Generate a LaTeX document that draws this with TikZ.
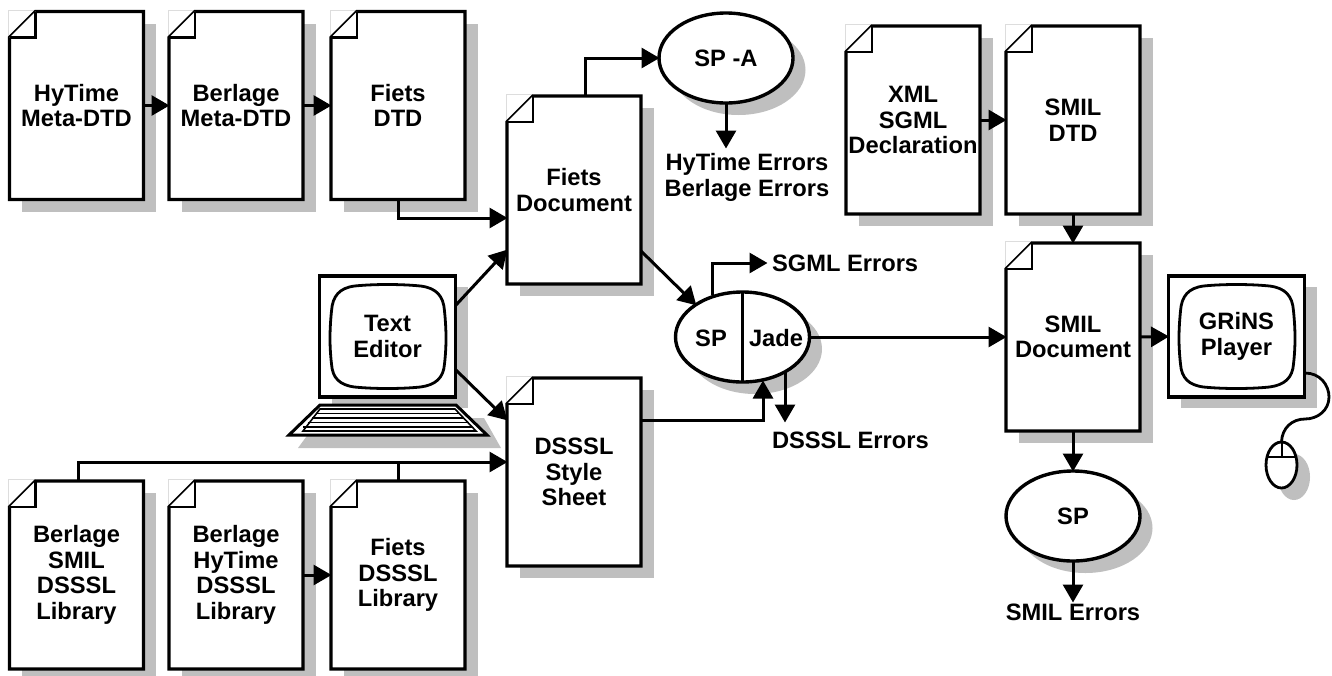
\documentclass[tikz,border=0pt]{standalone}
\usepackage{fontspec}
\setmainfont{Liberation Sans}
\usetikzlibrary{arrows.meta,shapes.geometric,calc}
\definecolor{shadowc}{HTML}{BFBFBF}
\definecolor{faintc}{HTML}{DDDDDD}
\tikzset{
  x=1pt,y=-1pt,
  box/.style={draw=black,line width=3.4pt,fill=white,line join=miter},
  shadow/.style={fill=shadowc,draw=none},
  conn/.style={draw=black,line width=3pt,-{Triangle[length=18pt,width=20pt]},shorten >=-0.5pt},
  plain/.style={draw=black,line width=3pt},
  lab/.style={font=\fontsize{23.7}{25.5}\selectfont\bfseries,align=center,inner sep=0pt,outer sep=0pt},
  blob/.style={ellipse,draw=black,line width=3.4pt,fill=white,minimum width=134pt,minimum height=90pt,inner sep=0pt,outer sep=0pt},
  hot/.style={inner sep=0pt,outer sep=0pt,minimum width=134pt,minimum height=188pt,font=\fontsize{23.7}{25.5}\selectfont\bfseries,align=center},
  screen/.style={inner sep=0pt,outer sep=0pt,minimum width=136pt,minimum height=121pt,font=\fontsize{23.7}{25.5}\selectfont\bfseries,align=center}
}
\newcommand{\docnode}[4]{%
  \begin{scope}[shift={(#2,#3)}]
    \fill[shadow] (12.5,12) rectangle (146.5,200);
    \draw[faintc,line width=0.8pt] (-1,26) -- (-1,-1.5) -- (26,-1.5);
    \draw[box] (26,0) -- (134,0) -- (134,188) -- (0,188) -- (0,26) -- cycle;
    \draw[box,line width=2.6pt] (0,26) -- (26,26) -- (26,0);
    \node[hot] (#1) at (67,94) {#4};
  \end{scope}}
\newcommand{\monitor}[4]{%
  \begin{scope}[shift={(#2,#3)}]
    \fill[shadow] (12,11) rectangle (148,132);
    \draw[box] (0,0) rectangle (136,121);
    \draw[draw=black,line width=2.8pt,fill=white] (35,10)
      .. controls (55,8) and (81,8) .. (101,10)
      .. controls (117,12) and (124,20) .. (125,35)
      .. controls (127,55) and (127,70) .. (125,88)
      .. controls (124,102) and (116,109) .. (101,111)
      .. controls (81,113) and (55,113) .. (35,111)
      .. controls (20,109) and (13,102) .. (12,88)
      .. controls (10,70) and (10,55) .. (12,35)
      .. controls (13,20) and (20,12) .. (35,10) -- cycle;
    \node[screen] (#1) at (68,60.5) {#4};
  \end{scope}}
\begin{document}
\begin{tikzpicture}
\useasboundingbox (0,0) rectangle (1332,675);
% documents
\docnode{hytime}{9.5}{11.5}{HyTime\\Meta-DTD}
\docnode{berlage}{169}{11.5}{Berlage\\Meta-DTD}
\docnode{fietsdtd}{331}{11.5}{Fiets\\DTD}
\docnode{fietsdoc}{507}{96}{Fiets\\Document}
\docnode{xml}{846}{26}{XML\\SGML\\Declaration}
\docnode{smildtd}{1006}{26}{SMIL\\DTD}
\docnode{smildoc}{1006}{243}{SMIL\\Document}
\docnode{dsssl}{507}{378}{DSSSL\\Style\\Sheet}
\docnode{libsmil}{9.5}{481}{Berlage\\SMIL\\DSSSL\\Library}
\docnode{libhy}{169}{481}{Berlage\\HyTime\\DSSSL\\Library}
\docnode{libfiets}{331}{481}{Fiets\\DSSSL\\Library}
% keyboard shadow
\fill[shadow] (320,418) -- (484,418) -- (501,448) -- (298,448) -- cycle;
% monitors
\monitor{editor}{319.5}{276}{Text\\Editor}
\monitor{player}{1168.5}{276}{GRiNS\\Player}
% keyboard
\draw[box,line width=3pt] (320,405) -- (456,405) -- (487,435) -- (289,435) -- cycle;
\begin{scope}[line width=1.6pt]
  \draw (320,409) -- (455,409) -- (476,431) -- (303,431) -- cycle;
  \draw (316,413.5) -- (460,413.5);
  \draw (312,418) -- (464,418);
  \draw (307.5,422.5) -- (468,422.5);
  \draw (303,427) -- (472,427);
\end{scope}
% mouse
\fill[shadow] (1294,477) ellipse (16 and 23);
\draw[draw=black,line width=2.8pt,fill=white] (1281.5,465) ellipse (15.5 and 23);
\draw[line width=2pt] (1266,457) -- (1297,457) (1281.5,442) -- (1281.5,457);
\draw[line width=2.8pt] (1305,373) .. controls (1320,373) and (1329,385) .. (1329,397)
  .. controls (1329,410) and (1318,419) .. (1305,419)
  .. controls (1292,419) and (1282,428) .. (1281.5,442);
% ellipses
\fill[shadow] (738.5,70) ellipse (67 and 45);
\node[blob] (spa) at (726,58) {};
\node[lab] at (726,58) {SP -A};
\fill[shadow] (755,349) ellipse (67 and 45);
\node[blob] (spjade) at (742.5,337) {};
\draw[plain] (spjade.north) -- (spjade.south);
\node[lab] (splab) at (711,338) {SP};
\node[lab] (jadelab) at (776,338) {Jade};
\fill[shadow] (1085.5,528) ellipse (67 and 45);
\node[blob] (spb) at (1073,516) {};
\node[lab] at (1073,516) {SP};
% free labels
\node[lab] (hyerr) at (747,177.5) {HyTime Errors\\Berlage Errors};
\node[lab,anchor=west] (sgmlerr) at (772,263) {SGML Errors};
\node[lab,anchor=west] (dssslerr) at (772,440) {DSSSL Errors};
\node[lab] (smilerr) at (1073,612) {SMIL Errors};
% free ends
\coordinate (fdin) at (507,218);
\coordinate (fdtop) at (585,96);
\coordinate (spain) at (spa.west);
\coordinate (spaerr) at (726,148);
\coordinate (edtop) at (456,305);
\coordinate (edlow) at (456,370);
\coordinate (fdin2) at (507,250);
\coordinate (dsin) at (507,420);
\coordinate (fdout) at (641,251);
\coordinate (spin) at (696,305);
\coordinate (dsout) at (641,420);
\coordinate (jadein) at (763,381);
\coordinate (sgmlout) at (712,295);
\coordinate (sgmlend) at (767,263);
\coordinate (jadeout) at (785,372);
\coordinate (jadeend) at (785,422);
\coordinate (smilin) at (1006,337);
\coordinate (libbus) at (507,462);
\coordinate (lib2) at (398,462);
\coordinate (libA) at (78,481);
\coordinate (libB) at (398,481);
\coordinate (dtdout) at (398,199.5);
\coordinate (spberr) at (1073,602);
% connectors
\draw[conn] (hytime.east) -- (berlage.west);
\draw[conn] (berlage.east) -- (fietsdtd.west);
\draw[conn] (dtdout) |- (fdin);
\draw[conn] (fdtop) |- (spain);
\draw[conn] (spa.south) -- (spaerr);
\draw[conn] (xml.east) -- (smildtd.west);
\draw[conn] (smildtd.south) -- (smildoc.north);
\draw[conn] (edtop) -- (fdin2);
\draw[conn] (edlow) -- (dsin);
\draw[conn] (fdout) -- (spin);
\draw[conn] (dsout) -| (jadein);
\draw[conn] (sgmlout) |- (sgmlend);
\draw[conn] (jadeout) -- (jadeend);
\draw[conn] (spjade.east) -- (smilin);
\draw[conn] (smildoc.east) -- (player.west);
\draw[conn] (smildoc.south) -- (spb.north);
\draw[conn] (spb.south) -- (spberr);
\draw[conn] (libA) |- (libbus);
\draw[plain] (libB) -- (lib2);
\draw[conn] (libhy.east) -- (libfiets.west);
\end{tikzpicture}
\end{document}
